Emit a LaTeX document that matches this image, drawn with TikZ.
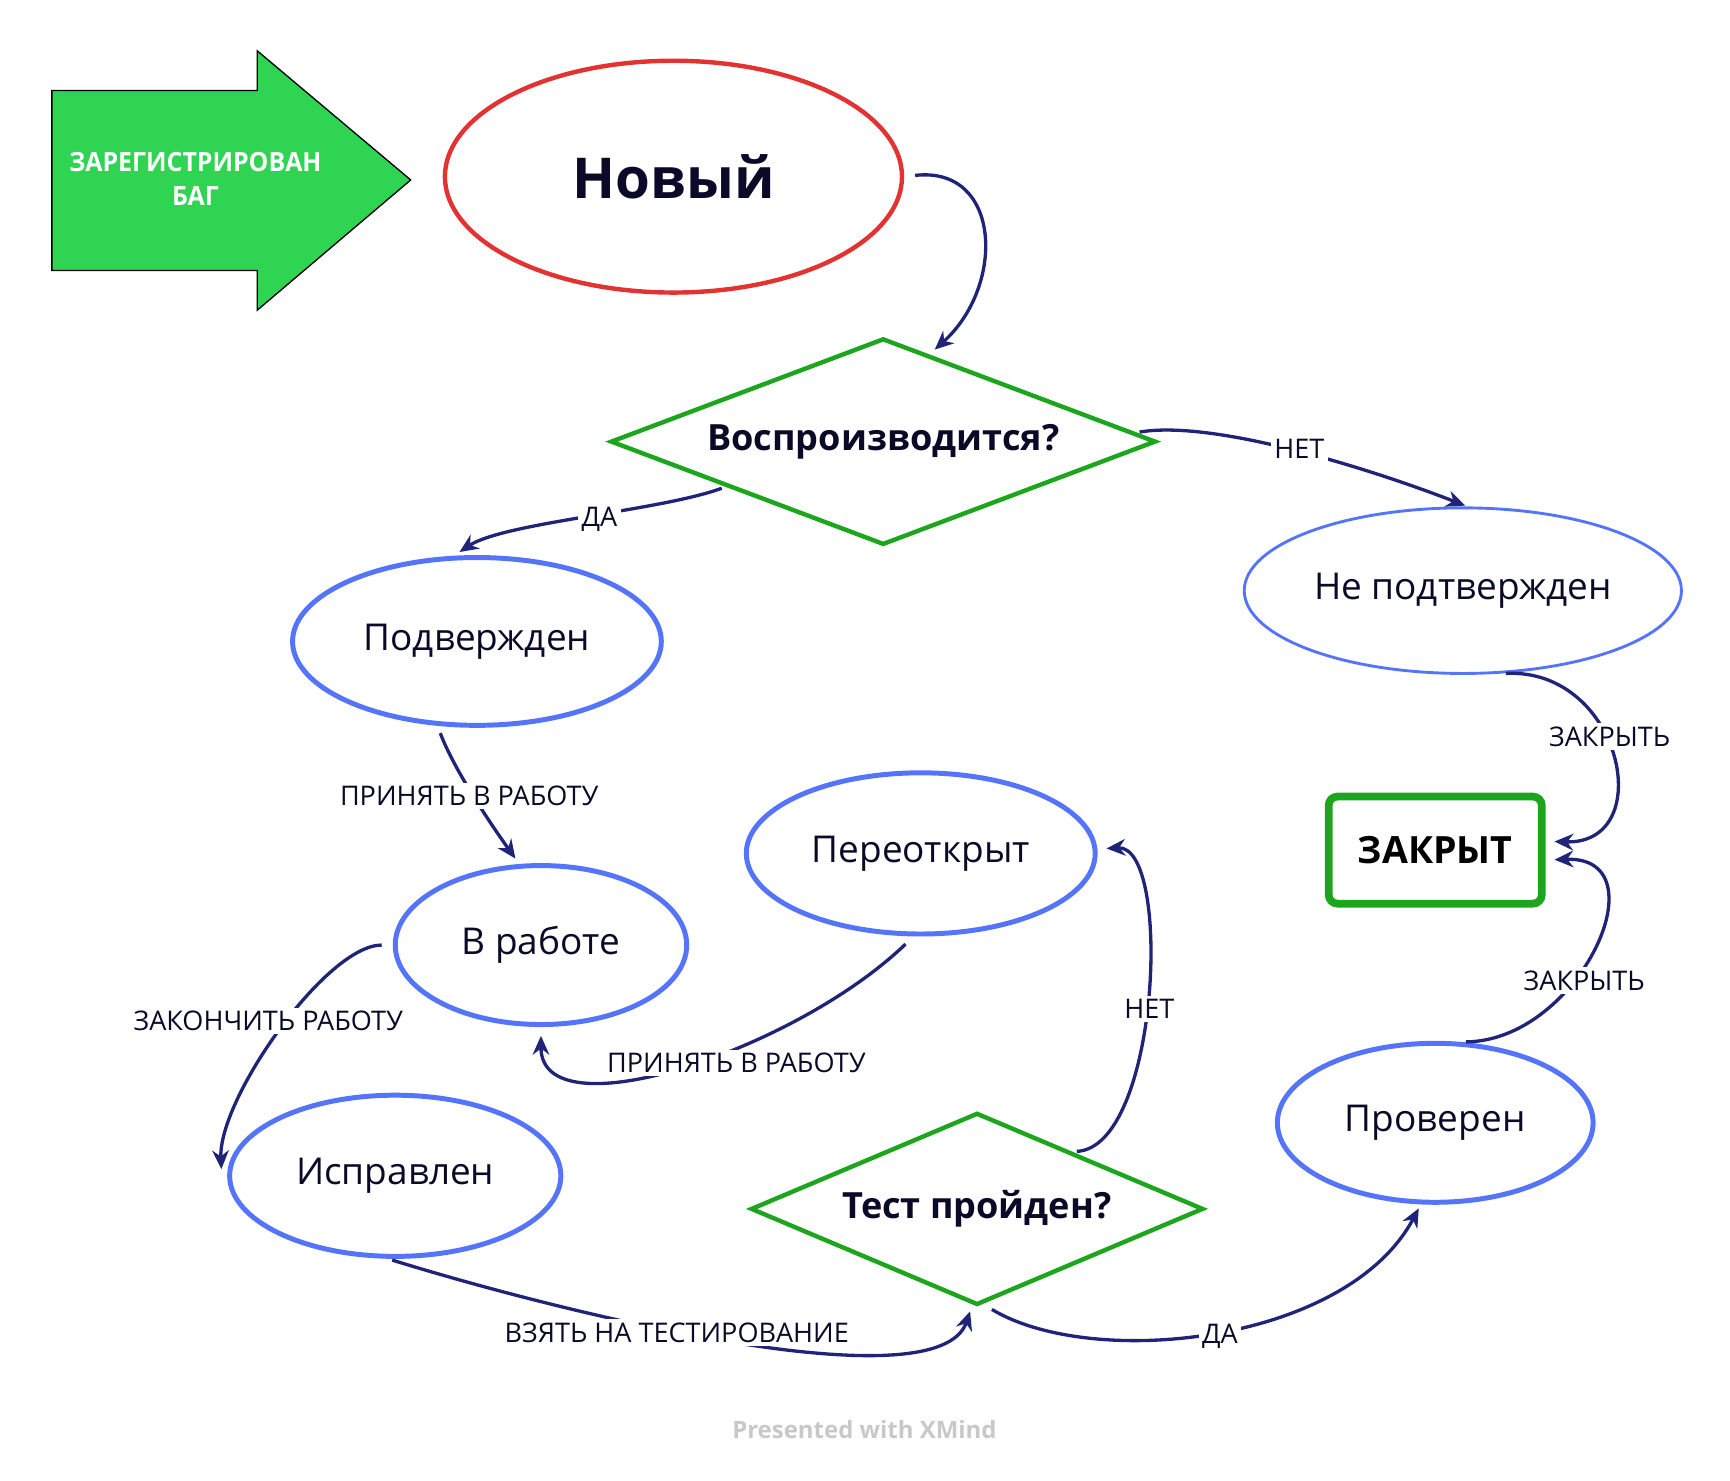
\documentclass[tikz,border=0pt]{standalone}
\usepackage{fontspec}
\setmainfont{Open Sans}
\newfontfamily\condfont{Open Sans}[FakeStretch=0.94]
\usetikzlibrary{shapes.geometric,arrows.meta}
\definecolor{stateblue}{RGB}{84,116,250}
\definecolor{newred}{RGB}{226,50,50}
\definecolor{askgreen}{RGB}{30,165,30}
\definecolor{reggreen}{RGB}{46,212,82}
\definecolor{linkc}{RGB}{31,36,120}
\definecolor{textc}{RGB}{10,10,40}
\definecolor{xmindgray}{RGB}{200,200,200}

\tikzset{
  state/.style={ellipse, draw=stateblue, line width=4.5pt, inner sep=0pt, text=textc, font=\fontsize{33.5}{40}\selectfont},
  ask/.style={diamond, draw=askgreen, line width=4pt, inner sep=0pt, text=textc, font=\bfseries\fontsize{32.7}{38}\selectfont},
  link/.style={draw=linkc, line width=3pt, -{Stealth[length=17pt,width=15pt]}, shorten <=4pt, shorten >=6pt},
  lbl/.style={fill=white, inner sep=3pt, text=textc, font=\fontsize{24.5}{28}\selectfont},
}

\begin{document}
\begin{tikzpicture}[x=1pt,y=1pt]
\useasboundingbox (0,0) rectangle (1567,-1340.6);

\filldraw[fill=reggreen, draw=black, line width=1.2pt] (47,-82) -- (233,-82) -- (233,-46) -- (372,-163) -- (233,-281) -- (233,-245) -- (47,-245) -- cycle;
\node[text=white, font=\condfont\bfseries\fontsize{24}{30}\selectfont, align=center] (reg) at (177,-162) {ЗАРЕГИСТРИРОВАН\\БАГ};

\node[ellipse, draw=newred, line width=4pt, minimum width=414pt, minimum height=210pt, inner sep=0pt, text=textc, font=\bfseries\fontsize{51}{60}\selectfont] (novyj) at (610,-160) {Новый};
\node[ask, minimum width=494pt, minimum height=187pt, aspect=2.6] (vospr) at (800,-400) {Воспроизводится?};
\node[state, line width=2.6pt, minimum width=396pt, minimum height=150pt] (nepodtv) at (1325,-535) {Не подтвержден};
\node[state, minimum width=334pt, minimum height=152pt] (podtv) at (432,-581) {Подвержден};
\node[state, minimum width=316pt, minimum height=146pt] (pereotkr) at (834,-773) {Переоткрыт};
\node[draw=askgreen, line width=7pt, rounded corners=8pt, minimum width=193pt, minimum height=97pt, text=black, font=\bfseries\fontsize{34}{40}\selectfont] (zakryt) at (1300,-770) {ЗАКРЫТ};
\node[state, minimum width=264pt, minimum height=144pt] (vrabote) at (490,-856) {В работе};
\node[state, minimum width=286pt, minimum height=144pt] (proveren) at (1300,-1017) {Проверен};
\node[state, minimum width=300pt, minimum height=146pt] (ispravlen) at (358,-1065) {Исправлен};
\node[ask, minimum width=410pt, minimum height=174pt, aspect=2.36] (test) at (885,-1095) {Тест пройден?};

\node[text=xmindgray, font=\bfseries\fontsize{21.7}{25}\selectfont] (xmind) at (783,-1295) {Presented with XMind};

\draw[link, shorten <=10pt] (novyj.east) .. controls +(88,10) and +(69,62) .. (vospr.62);
\draw[link, shorten >=2pt] (vospr.2) .. controls +(70,12) and +(-90,35) .. (nepodtv.87) node[lbl] at (1177,-407) {НЕТ};
\draw[link] (vospr.196) .. controls +(-60,-22) and +(45,30) .. (podtv.105) node[lbl] at (543,-470) {ДА};
\draw[link, shorten <=7pt] (podtv.245) .. controls +(15,-40) and +(-25,35) .. (vrabote.105) node[lbl] at (425,-721) {ПРИНЯТЬ В РАБОТУ};
\draw[link, shorten >=8pt] (nepodtv.295) .. controls +(110,5) and +(102,-3) .. ([yshift=8pt]zakryt.east) node[lbl] at (1458,-667) {ЗАКРЫТЬ};
\draw[link, shorten >=8pt] (proveren.72) .. controls +(107,1) and +(107,4) .. ([yshift=-9pt]zakryt.east) node[lbl] at (1435,-888) {ЗАКРЫТЬ};
\draw[link, shorten <=10pt] (vrabote.west) .. controls +(-60,0) and +(-3,70) .. ([xshift=-5pt]ispravlen.west) node[lbl] at (243,-925) {ЗАКОНЧИТЬ РАБОТУ};
\draw[link, shorten <=10pt, shorten >=8pt] (pereotkr.265) .. controls +(-108,-104) and +(0,-97) .. (vrabote.south) node[lbl] at (667,-963) {ПРИНЯТЬ В РАБОТУ};
\draw[link, shorten >=8pt] (test.31) .. controls +(79,4) and +(68,4) .. ([yshift=4pt]pereotkr.east) node[lbl] at (1041,-914) {НЕТ};
\draw[link, shorten >=4pt] (ispravlen.265) .. controls +(168,-52) and +(-30,-88) .. ([xshift=-5pt]test.south) node[lbl] at (613,-1207) {ВЗЯТЬ НА ТЕСТИРОВАНИЕ};
\draw[link, shorten >=4pt] ([xshift=10pt]test.south) .. controls +(95,-57) and +(-67,-126) .. (proveren.260) node[lbl] at (1105,-1210) {ДА};

\end{tikzpicture}
\end{document}
